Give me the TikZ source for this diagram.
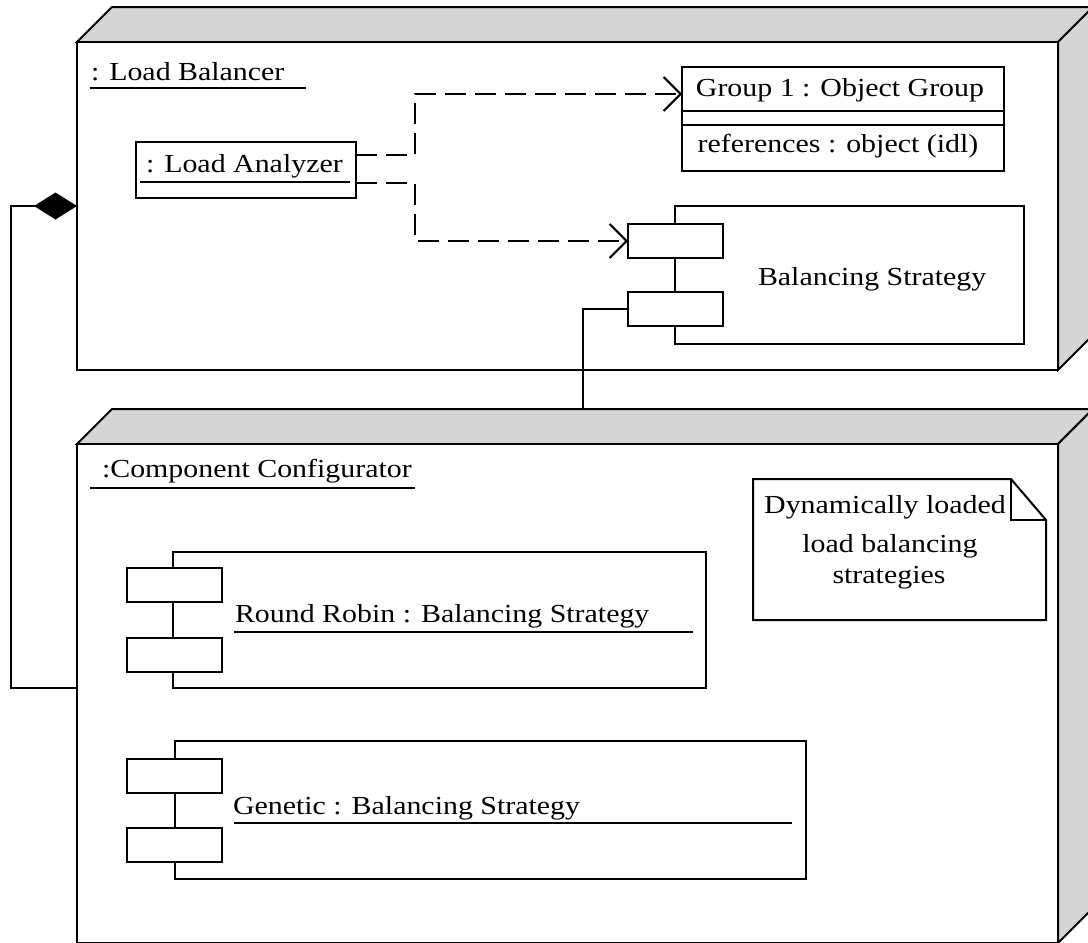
\documentclass[tikz,border=0pt]{standalone}
\usepackage{fontspec}
\setmainfont{Liberation Serif}[FakeStretch=1.15]
\usetikzlibrary{arrows.meta,calc}

\definecolor{facegray}{RGB}{212,212,212}

\tikzset{
  frame/.style={draw, line width=2pt, fill=white, inner sep=0pt, outer sep=0pt, anchor=north west},
  face/.style={draw, line width=2pt, fill=facegray, line join=miter},
  port/.style={frame, minimum width=95pt, minimum height=34pt},
  label/.style={inner sep=0pt, outer sep=0pt, anchor=base west},
  clabel/.style={inner sep=0pt, outer sep=0pt, anchor=base},
  uline/.style={line width=2pt},
  wire/.style={line width=2pt},
  dep/.style={line width=2pt, dash pattern=on 21pt off 9pt,
    -{Straight Barb[length=17pt, width=34pt, line width=2pt]}},
  comp/.style={line width=2pt, {Diamond[length=43pt, width=27pt]}-},
}

\begin{document}
\begin{tikzpicture}[x=1pt, y=-1pt, font=\fontsize{26pt}{31pt}\selectfont]
\useasboundingbox (0,0) rectangle (1088,943);
\clip (0,0) rectangle (1088,943);
\fill[white] (0,0) rectangle (1088,943);

% ---------- Load Balancer node ----------
\node[frame, fill=none, draw=none, minimum width=981pt, minimum height=328pt] (lb) at (77,42) {};
\draw[face] (lb.north west) -- ++(35,-35) -- ++(981,0) -- (lb.north east) -- cycle;
\draw[face] (lb.north east) -- ++(35,-35) -- ++(0,328) -- (lb.south east) -- cycle;
\node[frame, minimum width=981pt, minimum height=328pt] (lbf) at (77,42) {};
\node[label] (lbname) at (91,80) {: Load Balancer};
\draw[uline] (90,88) -- (306,88);

% ---------- Component Configurator node ----------
\node[frame, fill=none, draw=none, minimum width=981pt, minimum height=499pt] (cc) at (77,444) {};
\draw[face] (cc.north west) -- ++(35,-35) -- ++(981,0) -- (cc.north east) -- cycle;
\draw[face] (cc.north east) -- ++(35,-35) -- ++(0,499) -- (cc.south east) -- cycle;
\node[frame, minimum width=981pt, minimum height=499pt] (ccf) at (77,444) {};
\node[label] (ccname) at (102,477) {:Component Configurator};
\draw[uline] (90,488) -- (415,488);

% ---------- Load Analyzer object ----------
\node[frame, minimum width=220pt, minimum height=56pt] (la) at (136,142) {};
\node[label] (laname) at (146,172) {: Load Analyzer};
\draw[uline] (140,182) -- (350,182);

% ---------- Object Group ----------
\node[frame, minimum width=322pt, minimum height=44pt] (og) at (682,67) {};
\node[frame, minimum width=322pt, minimum height=14pt] (ogmid) at (682,111) {};
\node[frame, minimum width=322pt, minimum height=46pt] (ogattr) at (682,125) {};
\node[clabel] (ogname) at (840,96) {Group 1 : Object Group};
\node[clabel] (ogref) at (838,152) {references : object (idl)};

% ---------- Balancing Strategy component ----------
\node[frame, minimum width=349pt, minimum height=138pt] (bs) at (675,206) {};
\node[port] (bsp1) at (628,224) {};
\node[port] (bsp2) at (628,292) {};
\node[label] (bsname) at (758,285) {Balancing Strategy};

% ---------- Round Robin component ----------
\node[frame, minimum width=533pt, minimum height=136pt] (rr) at (173,552) {};
\node[port] (rrp1) at (127,568) {};
\node[port] (rrp2) at (127,638) {};
\node[label] (rrname) at (235,622) {Round Robin : Balancing Strategy};
\draw[uline] (234,632) -- (693,632);

% ---------- Genetic component ----------
\node[frame, minimum width=631pt, minimum height=138pt] (gen) at (175,741) {};
\node[port] (genp1) at (127,759) {};
\node[port] (genp2) at (127,828) {};
\node[label] (genname) at (233,814) {Genetic : Balancing Strategy};
\draw[uline] (234,823) -- (792,823);

% ---------- Note ----------
\node[frame, fill=none, draw=none, minimum width=293pt, minimum height=141pt] (note) at (753,479) {};
\draw[wire, line join=miter] (note.north west) -- ($(note.north east)+(-35,0)$)
  -- ($(note.north east)+(0,41)$) -- (note.south east) -- (note.south west) -- cycle;
\draw[wire] ($(note.north east)+(-35,0)$) |- ($(note.north east)+(0,41)$);
\node[clabel] (note1) at (885,513) {Dynamically loaded};
\node[clabel] (note2) at (890,552) {load balancing};
\node[clabel] (note3) at (889,583) {strategies};

% ---------- Connectors ----------
\draw[dep] ($(la.north east)+(0,13)$) -- ++(59,0) |- ($(og.west)+(0,5)$);
\draw[dep] ($(la.north east)+(0,41)$) -- ++(59,0) |- (bsp1.west);

\coordinate (cctop) at ($(cc.north west)+(506,-35)$);
\draw[wire] (bsp2.west) -| (cctop);

\coordinate (ccin) at ($(cc.north west)+(0,244)$);
\draw[comp] (lb.west) -| ($(ccin)+(-66,0)$) -- (ccin);
\end{tikzpicture}
\end{document}
